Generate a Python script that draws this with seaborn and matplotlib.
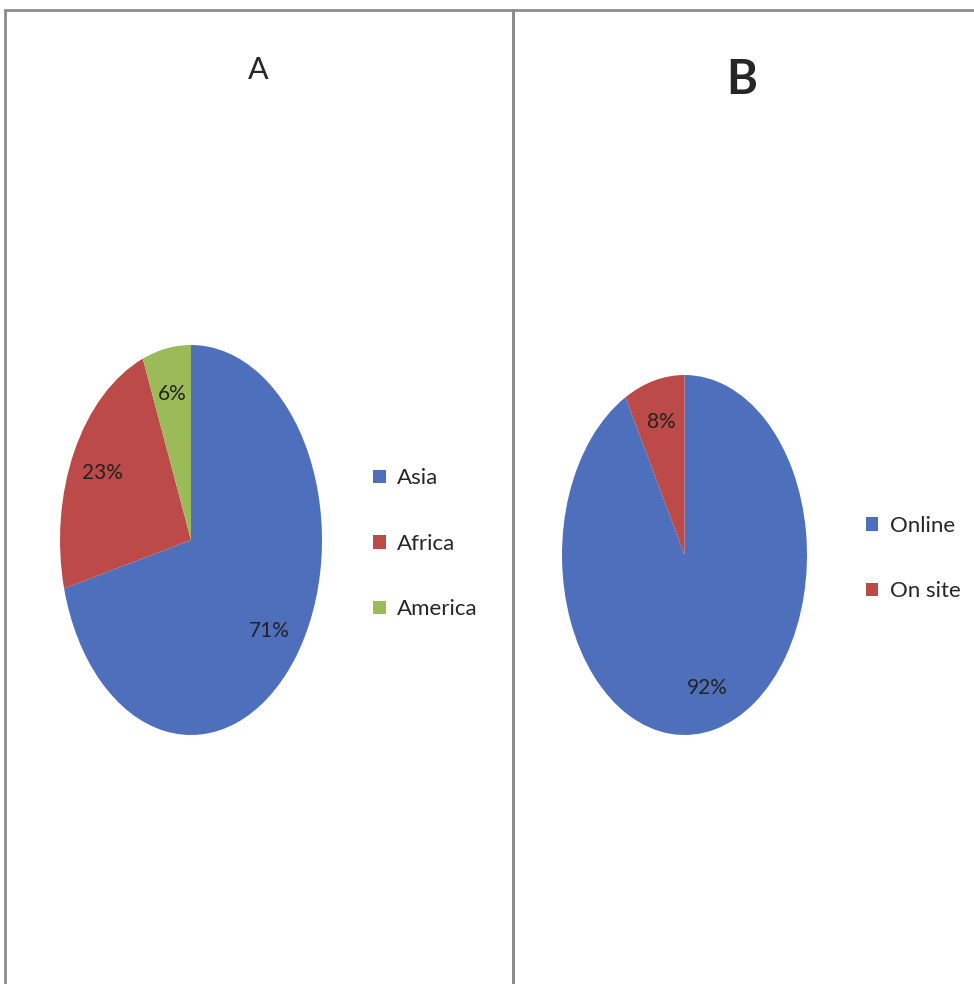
import matplotlib
matplotlib.use("Agg")
import matplotlib.pyplot as plt
import seaborn as sns
from matplotlib.patches import Rectangle

# data
regions = ["Asia", "Africa", "America"]
region_share = [71, 23, 6]
modes = ["Online", "On site"]
mode_share = [92, 8]

sns.set_theme(style="white")
plt.rcParams["font.family"] = ["Lato", "DejaVu Sans"]

blue, red, green = "#4E70BC", "#BC4A48", "#9BBB59"
W, H = 974, 984

fig = plt.figure(figsize=(W / 100, H / 100), dpi=100)


def px_axes(x0, y0, x1, y1):
    # pixel box (top-left origin) -> figure axes
    return fig.add_axes([x0 / W, 1 - y1 / H, (x1 - x0) / W, (y1 - y0) / H])


# panel frames
frame_kw = dict(fill=False, edgecolor="#8c8c8c", linewidth=2, transform=fig.transFigure)
fig.add_artist(Rectangle((5 / W, -0.05), 508 / W, 1.05 - 10 / H, **frame_kw))
fig.add_artist(Rectangle((513 / W, -0.05), 470 / W, 1.05 - 10 / H, **frame_kw))

pie_kw = dict(startangle=90, counterclock=False, autopct="%d%%",
              wedgeprops=dict(linewidth=0),
              textprops=dict(fontsize=15, color="#222222"))
leg_kw = dict(loc="center left", frameon=False, fontsize=16, labelspacing=2.05,
              handlelength=0.55, handleheight=0.55, handletextpad=0.5)

# pie A
axA = px_axes(60, 345, 322, 735)
wA, _, tA = axA.pie(region_share, colors=[blue, red, green], pctdistance=0.76, **pie_kw)
axA.set_aspect("auto")
axA.set_xlim(-1, 1)
axA.set_ylim(-1, 1)
axA.axis("off")
axA.legend(wA, regions, bbox_to_anchor=(1.12, 0.5 - 0.01), **leg_kw)
fig.text(258 / W, 1 - 70 / H, "A", ha="center", va="center", fontsize=22)

# pie B
axB = px_axes(562, 375, 807, 735)
wB, _, tB = axB.pie(mode_share, colors=[blue, red], pctdistance=0.76, **pie_kw)
axB.set_aspect("auto")
axB.set_xlim(-1, 1)
axB.set_ylim(-1, 1)
axB.axis("off")
axB.legend(wB, modes, bbox_to_anchor=(1.16, 0.5 - 0.01), **leg_kw)
fig.text(742 / W, 1 - 80 / H, "B", ha="center", va="center", fontsize=34,
         fontweight="bold")

fig.savefig("out.png", dpi=100)
